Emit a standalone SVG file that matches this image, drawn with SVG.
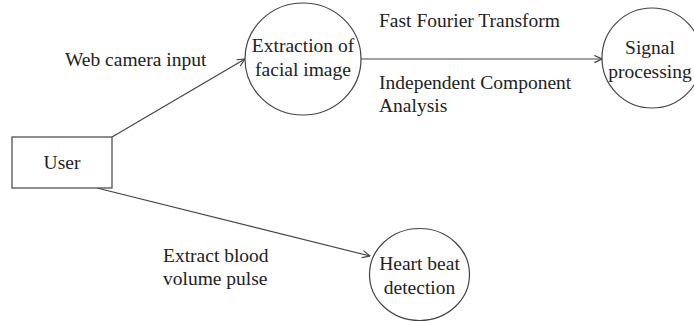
<svg xmlns="http://www.w3.org/2000/svg" width="694" height="322" viewBox="0 0 694 322">
  <style>
    .node { fill: #ffffff; stroke: #444444; stroke-width: 1.2; }
    .edge { fill: none; stroke: #444444; stroke-width: 1.2; }
    .lbl { font-family: "Liberation Serif", "DejaVu Serif", "Times New Roman", serif; font-size: 19.5px; fill: #222222; }
    .c { text-anchor: middle; }
  </style>
  <defs>
    <marker id="open-arrow" viewBox="0 0 10 10" refX="9.5" refY="5" markerWidth="9" markerHeight="9" markerUnits="userSpaceOnUse" orient="auto">
      <path d="M1,1 L9.5,5 L1,9" fill="none" stroke="#444444" stroke-width="1.3"/>
    </marker>
  </defs>
  <rect width="694" height="322" fill="#ffffff"/>

  <g id="connectors">
    <line class="edge" x1="112" y1="137" x2="245" y2="59" marker-end="url(#open-arrow)"/>
    <line class="edge" x1="361" y1="59" x2="602" y2="59" marker-end="url(#open-arrow)"/>
    <line class="edge" x1="97" y1="188" x2="370" y2="256" marker-end="url(#open-arrow)"/>
    <text class="lbl" x="65" y="66" font-family="Liberation Serif, serif">Web camera input</text>
    <text class="lbl" x="379" y="27" font-family="Liberation Serif, serif">Fast Fourier Transform</text>
    <text class="lbl" x="379" y="89" font-family="Liberation Serif, serif">Independent Component</text>
    <text class="lbl" x="379" y="112" font-family="Liberation Serif, serif">Analysis</text>
    <text class="lbl" x="163" y="262" font-family="Liberation Serif, serif">Extract blood</text>
    <text class="lbl" x="163" y="285" font-family="Liberation Serif, serif">volume pulse</text>
  </g>

  <g id="user">
    <rect class="node" x="12" y="137" width="100" height="51"/>
    <text class="lbl c" x="62" y="169" font-family="Liberation Serif, serif">User</text>
  </g>

  <g id="extraction">
    <ellipse class="node" cx="303" cy="59" rx="58" ry="56"/>
    <text class="lbl c" x="303" y="52" font-family="Liberation Serif, serif">Extraction of</text>
    <text class="lbl c" x="303" y="76" font-family="Liberation Serif, serif">facial image</text>
  </g>

  <g id="signal-processing">
    <circle class="node" cx="652" cy="58" r="50"/>
    <text class="lbl c" x="650" y="54" font-family="Liberation Serif, serif">Signal</text>
    <text class="lbl c" x="650" y="78" font-family="Liberation Serif, serif">processing</text>
  </g>

  <g id="heart-beat">
    <ellipse class="node" cx="419.5" cy="274.5" rx="50" ry="46"/>
    <text class="lbl c" x="419.5" y="270" font-family="Liberation Serif, serif">Heart beat</text>
    <text class="lbl c" x="419.5" y="294" font-family="Liberation Serif, serif">detection</text>
  </g>
</svg>
